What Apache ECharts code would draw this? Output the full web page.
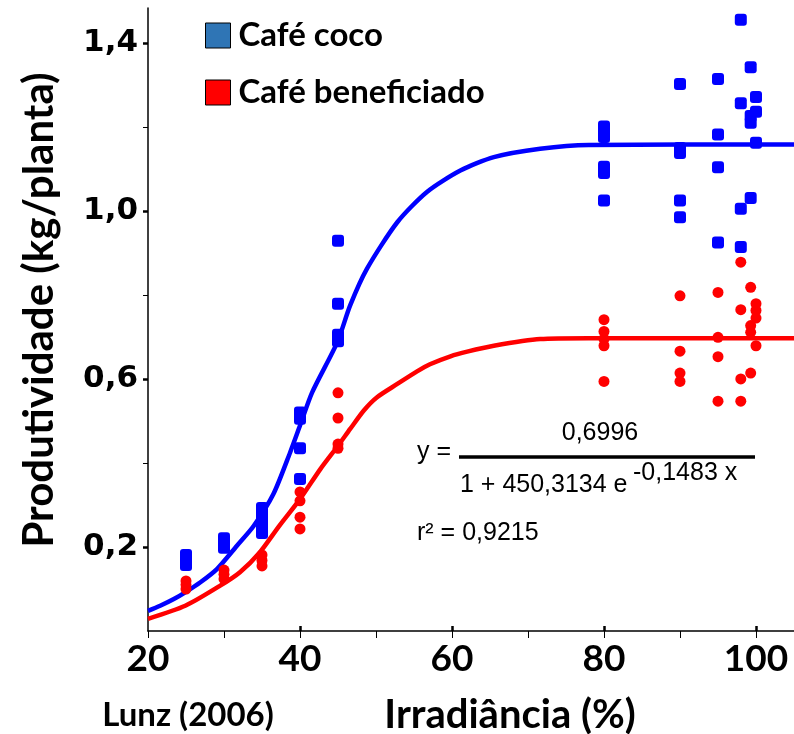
<!DOCTYPE html>
<html>
<head>
<meta charset="utf-8">
<script src="https://cdn.jsdelivr.net/npm/echarts@6/dist/echarts.min.js"></script>
<style>
  html, body { margin: 0; padding: 0; background: #fff; }
  #chart { width: 794px; height: 734px; }
</style>
</head>
<body>
<div id="chart"></div>
<script>
// pontos observados - café coco
const cocoX = [25, 25, 25, 25, 30, 30, 30, 35, 35, 35, 35, 35, 40, 40, 40, 40, 45, 45, 45, 45,
  80, 80, 80, 80, 80, 80, 90, 90, 90, 90, 90, 95, 95, 95, 95, 98, 98, 98, 98,
  99.3, 99.3, 99.3, 99.3, 100, 100, 100];
const cocoY = [0.181, 0.172, 0.165, 0.157, 0.221, 0.21, 0.198, 0.293, 0.278, 0.263, 0.248, 0.233,
  0.52, 0.505, 0.435, 0.362, 0.929, 0.779, 0.705, 0.69,
  1.201, 1.188, 1.176, 1.105, 1.09, 1.025, 1.302, 1.15, 1.138, 1.025, 0.985,
  1.314, 1.182, 1.104, 0.925, 1.455, 1.256, 1.005, 0.914,
  1.342, 1.226, 1.21, 1.031, 1.271, 1.236, 1.162];

// pontos observados - café beneficiado
const benefX = [25, 25, 25, 30, 30, 30, 35, 35, 35, 40, 40, 40, 40, 45, 45, 45, 45,
  80, 80, 80, 80, 80, 90, 90, 90, 90, 95, 95, 95, 95, 98, 98, 98, 98,
  99.3, 99.3, 99.3, 99.3, 100, 100, 100, 100];
const benefY = [0.119, 0.11, 0.1, 0.145, 0.135, 0.124, 0.181, 0.168, 0.155,
  0.331, 0.31, 0.271, 0.243, 0.567, 0.507, 0.445, 0.435,
  0.741, 0.713, 0.695, 0.679, 0.594, 0.798, 0.666, 0.614, 0.594,
  0.806, 0.699, 0.653, 0.547, 0.878, 0.765, 0.6, 0.547,
  0.818, 0.727, 0.711, 0.614, 0.779, 0.763, 0.745, 0.679];

// curvas ajustadas
const cocoCurveX = [20, 21.6, 23.4, 24.9, 26.9, 29.1, 31.7, 33.9, 36.5, 38.7, 40, 41.6, 44.9, 46.6,
  48.8, 52.8, 56.7, 61.1, 65.5, 71.6, 78, 105];
const cocoCurveY = [0.048, 0.06, 0.076, 0.092, 0.116, 0.148, 0.203, 0.25, 0.326, 0.425, 0.489, 0.568,
  0.687, 0.775, 0.862, 0.973, 1.045, 1.096, 1.128, 1.148, 1.157, 1.158];
const benefCurveX = [20, 24.9, 29.5, 32.1, 34.7, 37.3, 40, 42.7, 45, 46.6, 48.4, 50.1, 52.8, 55.4,
  57.1, 59.8, 62, 65.5, 71.6, 78, 105];
const benefCurveY = [0.029, 0.06, 0.108, 0.14, 0.187, 0.251, 0.314, 0.386, 0.441, 0.481, 0.525, 0.556,
  0.588, 0.618, 0.635, 0.654, 0.665, 0.679, 0.695, 0.697, 0.697];

// ticks
const xLabels = [20, 40, 60, 80, 100];
const xMinor = [20, 30, 40, 50, 60, 70, 80, 90, 100];
const yLabels = [0.2, 0.6, 1.0, 1.4];
const yMinor = [0.4, 0.8, 1.2];

const zip = (xs, ys) => xs.map((x, i) => [x, ys[i]]);

const chart = echarts.init(document.getElementById("chart"));
const bold = "Lato";
const xMin = 20, xMax = 105, yMin = 0, yMax = 1.483;

const option = {
  backgroundColor: "#fff",
  animation: false,
  grid: { left: 148, right: 0, top: 8, bottom: 103 },
  legend: {
    orient: "vertical",
    left: 200,
    top: 14,
    itemWidth: 25,
    itemHeight: 25,
    itemGap: 24,
    icon: "rect",
    textStyle: { fontFamily: bold, fontWeight: "bold", fontSize: 33, color: "#000", padding: [0, 0, 0, 3] },
    data: [
      { name: "Café coco", itemStyle: { color: "#2F75B5", borderColor: "#000", borderWidth: 1 } },
      { name: "Café beneficiado", itemStyle: { color: "#FF0000", borderColor: "#000", borderWidth: 1 } },
    ],
  },
  xAxis: [
    {
      type: "value", min: xMin, max: xMax,
      axisLine: { show: true, lineStyle: { color: "#000", width: 1.5 } },
      axisTick: { show: true, length: 7, lineStyle: { color: "#000", width: 1 }, customValues: xMinor },
      axisLabel: {
        customValues: xLabels, margin: 10, color: "#000",
        fontFamily: bold, fontWeight: "bold", fontSize: 37,
      },
      splitLine: { show: false },
    },
    {
      type: "value", min: xMin, max: xMax, position: "bottom",
      axisLine: { show: false },
      axisTick: { show: true, inside: true, length: 5, lineStyle: { color: "#000", width: 2.5 }, customValues: [40, 60, 80, 100] },
      axisLabel: { show: false },
      splitLine: { show: false },
    },
  ],
  yAxis: [
    {
      type: "value", min: yMin, max: yMax,
      axisLine: { show: true, lineStyle: { color: "#000", width: 1.5 } },
      axisTick: { show: true, length: 5, lineStyle: { color: "#000", width: 2.5 }, customValues: yLabels },
      axisLabel: {
        customValues: yLabels, margin: 10, color: "#000",
        fontFamily: "DejaVu Sans", fontWeight: "bold", fontSize: 31,
        formatter: (v) => v.toFixed(1).replace(".", ","),
      },
      splitLine: { show: false },
    },
    {
      type: "value", min: yMin, max: yMax, position: "left",
      axisLine: { show: false },
      axisTick: { show: true, length: 5, lineStyle: { color: "#000", width: 1 }, customValues: yMinor },
      axisLabel: { show: false },
      splitLine: { show: false },
    },
  ],
  graphic: [
    {
      type: "text", position: [39, 310], rotation: Math.PI / 2,
      style: {
        text: "Produtividade (kg/planta)", x: 0, y: 0, align: "center", verticalAlign: "middle",
        font: "bold 42px Lato", fill: "#000",
      },
    },
    {
      type: "text", position: [510, 715],
      style: { text: "Irradiância (%)", align: "center", verticalAlign: "middle", font: "bold 40px Lato", fill: "#000" },
    },
    {
      type: "text", position: [188, 715],
      style: { text: "Lunz (2006)", align: "center", verticalAlign: "middle", font: "bold 33px Lato", fill: "#000" },
    },
    // equação
    {
      type: "text", position: [417, 452],
      style: { text: "y =", verticalAlign: "middle", font: "25px 'Liberation Sans'", fill: "#000" },
    },
    {
      type: "text", position: [600, 433],
      style: { text: "0,6996", align: "center", verticalAlign: "middle", font: "25px 'Liberation Sans'", fill: "#000" },
    },
    {
      type: "line", shape: { x1: 459, y1: 457, x2: 755, y2: 457 },
      style: { stroke: "#000", lineWidth: 3.5 },
    },
    {
      type: "text", position: [460, 485],
      style: { text: "1 + 450,3134 e", verticalAlign: "middle", font: "25px 'Liberation Sans'", fill: "#000" },
    },
    {
      type: "text", position: [633, 473],
      style: { text: "-0,1483 x", verticalAlign: "middle", font: "25px 'Liberation Sans'", fill: "#000" },
    },
    {
      type: "text", position: [417, 533],
      style: { text: "r² = 0,9215", verticalAlign: "middle", font: "25px 'Liberation Sans'", fill: "#000" },
    },
  ],
  series: [
    {
      name: "ajuste coco", type: "line", smooth: 0.25, showSymbol: false,
      lineStyle: { color: "#0000FF", width: 4.5 }, itemStyle: { color: "#0000FF" },
      data: zip(cocoCurveX, cocoCurveY), z: 2,
    },
    {
      name: "ajuste beneficiado", type: "line", smooth: 0.25, showSymbol: false,
      lineStyle: { color: "#FF0000", width: 4.5 }, itemStyle: { color: "#FF0000" },
      data: zip(benefCurveX, benefCurveY), z: 2,
    },
    {
      name: "Café coco", type: "scatter", symbol: "roundRect", symbolSize: 12,
      itemStyle: { color: "#0000FF", opacity: 1 },
      data: zip(cocoX, cocoY), z: 3,
    },
    {
      name: "Café beneficiado", type: "scatter", symbol: "circle", symbolSize: 11,
      itemStyle: { color: "#FF0000", opacity: 1 },
      data: zip(benefX, benefY), z: 3,
    },
  ],
};
chart.setOption(option);
</script>
</body>
</html>
